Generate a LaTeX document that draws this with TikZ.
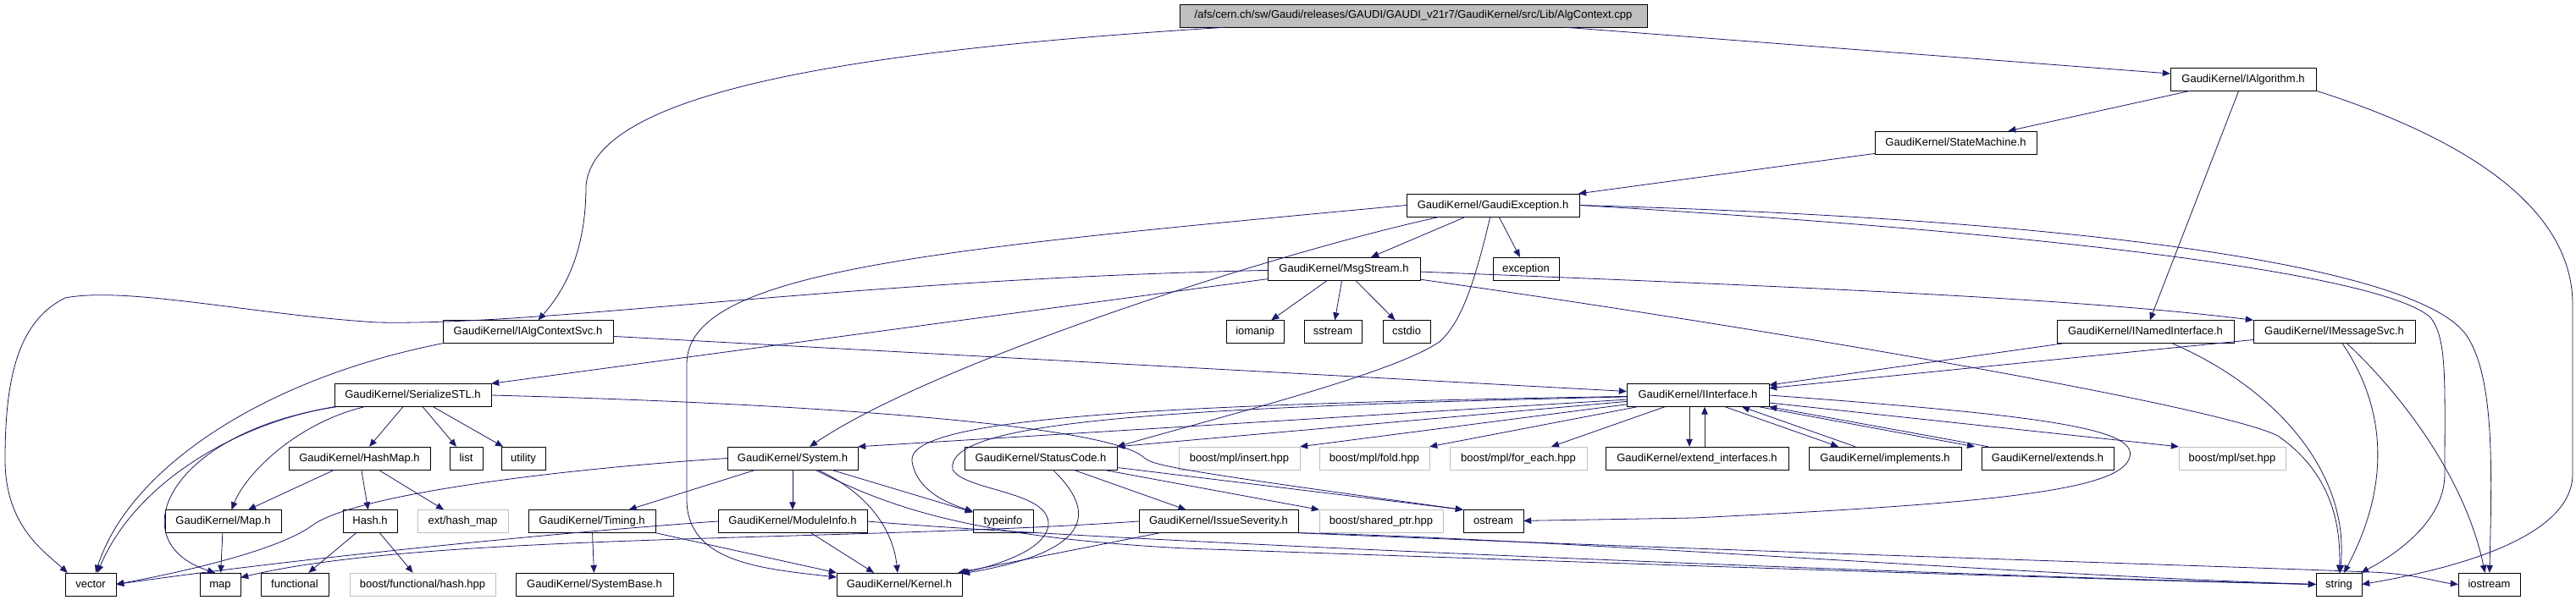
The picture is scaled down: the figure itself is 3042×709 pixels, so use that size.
\documentclass[tikz,border=0pt]{standalone}
\usepackage{fontspec}
\setmainfont{Liberation Sans}
\usetikzlibrary{arrows.meta}
\definecolor{edgeblue}{HTML}{191970}
\definecolor{boxgray}{HTML}{BFBFBF}

\begin{document}
\begin{tikzpicture}[x=1pt,y=-1pt,
      file/.style={draw=black,fill=white,inner sep=0pt,minimum height=27pt,
        font=\fontsize{13}{15}\selectfont,text height=9.5pt,text depth=2.5pt},
      sysfile/.style={file,draw=boxgray},
      mainfile/.style={file,fill=boxgray},
      incl/.style={draw=edgeblue,line width=0.8pt,-{Triangle[length=9pt,width=7.5pt]}},
    ]
    \useasboundingbox (0,0) rectangle (3042,709);
    % files
    \node[mainfile,minimum width=552pt] (main) at (1669,18.5) {/afs/cern.ch/sw/Gaudi/releases/GAUDI/GAUDI\_v21r7/GaudiKernel/src/Lib/AlgContext.cpp};
    \node[file,minimum width=172pt] (IAlgorithm) at (2649,93.5) {GaudiKernel/IAlgorithm.h};
    \node[file,minimum width=191pt] (StateMachine) at (2309.5,168.5) {GaudiKernel/StateMachine.h};
    \node[file,minimum width=204pt] (GaudiException) at (1763,242.5) {GaudiKernel/GaudiException.h};
    \node[file,minimum width=180pt] (MsgStream) at (1587,317.5) {GaudiKernel/MsgStream.h};
    \node[file,minimum width=78pt] (exception) at (1802,317.5) {exception};
    \node[file,minimum width=201pt] (IAlgContextSvc) at (623.5,392) {GaudiKernel/IAlgContextSvc.h};
    \node[file,minimum width=68pt] (iomanip) at (1482,392) {iomanip};
    \node[file,minimum width=68pt] (sstream) at (1574,392) {sstream};
    \node[file,minimum width=56pt] (cstdio) at (1661,392) {cstdio};
    \node[file,minimum width=209pt] (INamedInterface) at (2533.5,392) {GaudiKernel/INamedInterface.h};
    \node[file,minimum width=191pt] (IMessageSvc) at (2756.5,392) {GaudiKernel/IMessageSvc.h};
    \node[file,minimum width=185pt] (SerializeSTL) at (487.5,467) {GaudiKernel/SerializeSTL.h};
    \node[file,minimum width=168pt] (IInterface) at (2005,467) {GaudiKernel/IInterface.h};
    \node[file,minimum width=167pt] (HashMap) at (424.5,541.5) {GaudiKernel/HashMap.h};
    \node[file,minimum width=39pt] (list) at (550.5,541.5) {list};
    \node[file,minimum width=52pt] (utility) at (618,541.5) {utility};
    \node[file,minimum width=154pt] (System) at (936,541.5) {GaudiKernel/System.h};
    \node[file,minimum width=180pt] (StatusCode) at (1229,541.5) {GaudiKernel/StatusCode.h};
    \node[sysfile,minimum width=143pt] (mplinsert) at (1463.5,541.5) {boost/mpl/insert.hpp};
    \node[sysfile,minimum width=130pt] (mplfold) at (1623,541.5) {boost/mpl/fold.hpp};
    \node[sysfile,minimum width=162pt] (mplforeach) at (1793,541.5) {boost/mpl/for\_each.hpp};
    \node[file,minimum width=216pt] (extendinterfaces) at (2004,541.5) {GaudiKernel/extend\_interfaces.h};
    \node[file,minimum width=180pt] (implements) at (2226,541.5) {GaudiKernel/implements.h};
    \node[file,minimum width=156pt] (extends) at (2418,541.5) {GaudiKernel/extends.h};
    \node[sysfile,minimum width=126pt] (mplset) at (2636,541.5) {boost/mpl/set.hpp};
    \node[file,minimum width=137pt] (Map) at (263.5,616) {GaudiKernel/Map.h};
    \node[file,minimum width=64pt] (Hash) at (437,616) {Hash.h};
    \node[sysfile,minimum width=107pt] (exthashmap) at (546.5,616) {ext/hash\_map};
    \node[file,minimum width=150pt] (Timing) at (699,616) {GaudiKernel/Timing.h};
    \node[file,minimum width=176pt] (ModuleInfo) at (936,616) {GaudiKernel/ModuleInfo.h};
    \node[file,minimum width=71pt] (typeinfo) at (1184.5,616) {typeinfo};
    \node[file,minimum width=188pt] (IssueSeverity) at (1439,616) {GaudiKernel/IssueSeverity.h};
    \node[sysfile,minimum width=146pt] (sharedptr) at (1631,616) {boost/shared\_ptr.hpp};
    \node[file,minimum width=71pt] (ostream) at (1763.5,616) {ostream};
    \node[file,minimum width=60pt] (vector) at (107,690.5) {vector};
    \node[file,minimum width=48pt] (map) at (260,690.5) {map};
    \node[file,minimum width=80pt] (functional) at (348,690.5) {functional};
    \node[sysfile,minimum width=172pt] (funchash) at (499,690.5) {boost/functional/hash.hpp};
    \node[file,minimum width=186pt] (SystemBase) at (702,690.5) {GaudiKernel/SystemBase.h};
    \node[file,minimum width=148pt] (Kernel) at (1062,690.5) {GaudiKernel/Kernel.h};
    \node[file,minimum width=54pt] (string) at (2762,690.5) {string};
    \node[file,minimum width=73pt] (iostream) at (2939.5,690.5) {iostream};
    % includes of the top file
    \draw[incl] (main) .. controls (1000,60) and (700,110) .. (692,220) .. controls (692,300) and (665,345) .. (IAlgContextSvc);
    \draw[incl] (main) -- (IAlgorithm);
    \draw[incl] (IAlgorithm) -- (StateMachine);
    \draw[incl] (IAlgorithm) -- (INamedInterface);
    \draw[incl] (IAlgorithm.south east) .. controls (2900,160) and (3038,240) .. (3038,360) -- (3038,560) .. controls (3038,640) and (2880,675) .. (string.east);
    \draw[incl] (StateMachine) -- (GaudiException);
    % GaudiException.h
    \draw[incl] (GaudiException) -- (MsgStream);
    \draw[incl] (GaudiException) -- (exception);
    \draw[incl] (GaudiException) .. controls (1740,340) and (1725,380) .. (1701,403) .. controls (1650,440) and (1450,490) .. (StatusCode.north east);
    \draw[incl] (GaudiException) .. controls (1500,300) and (1100,430) .. (System);
    \draw[incl] (GaudiException.west) .. controls (1100,295) and (811,320) .. (811,430) -- (811,590) .. controls (811,665) and (900,672) .. (Kernel);
    \draw[incl] (GaudiException.east) .. controls (2500,280) and (2820,330) .. (2870,375) .. controls (2890,400) and (2887,450) .. (2887,560) .. controls (2887,620) and (2820,660) .. (string);
    \draw[incl] (GaudiException.east) .. controls (2500,260) and (2870,320) .. (2915,400) .. controls (2945,450) and (2943,550) .. (iostream);
    % MsgStream.h
    \draw[incl] (MsgStream) .. controls (1000,330) and (650,385) .. (446,381) .. controls (300,372) and (150,338) .. (77,352) .. controls (20,380) and (6,450) .. (6,543) .. controls (6,620) and (50,650) .. ([xshift=3pt]vector.north west);
    \draw[incl] (MsgStream) -- (SerializeSTL.north east);
    \draw[incl] (MsgStream) -- (iomanip);
    \draw[incl] (MsgStream) -- (sstream);
    \draw[incl] (MsgStream) -- (cstdio);
    \draw[incl] (MsgStream) .. controls (2100,338) and (2450,352) .. (IMessageSvc.north west);
    \draw[incl] (MsgStream) .. controls (2100,390) and (2620,480) .. (2690,515) .. controls (2740,550) and (2765,600) .. (string);
    % IAlgContextSvc.h
    \draw[incl] (IAlgContextSvc.south west) .. controls (300,450) and (150,560) .. ([xshift=6pt]vector.north);
    \draw[incl] (IAlgContextSvc) -- (IInterface);
    % SerializeSTL.h
    \draw[incl] (SerializeSTL.south west) .. controls (280,500) and (160,570) .. ([xshift=8pt]vector.north);
    \draw[incl] ([xshift=3pt]SerializeSTL.south west) .. controls (200,510) and (140,640) .. ([xshift=-6pt]map.north);
    \draw[incl] (SerializeSTL) .. controls (350,500) and (290,560) .. ([xshift=10pt]Map.north);
    \draw[incl] (SerializeSTL) -- (HashMap);
    \draw[incl] (SerializeSTL) -- (list);
    \draw[incl] (SerializeSTL) -- (utility);
    \draw[incl] (SerializeSTL.east) .. controls (1000,478) and (1310,505) .. (1350,540) .. controls (1362,550) and (1375,554) .. (ostream.north west);
    % HashMap.h and below
    \draw[incl] (HashMap) -- (Map);
    \draw[incl] (HashMap) -- (Hash);
    \draw[incl] (HashMap) -- (exthashmap);
    \draw[incl] (Map) -- (map);
    \draw[incl] (Hash) -- (functional);
    \draw[incl] (Hash) -- (funchash);
    % System.h
    \draw[incl] (System.west) .. controls (650,555) and (420,585) .. (370,620) .. controls (330,650) and (220,675) .. (vector.east);
    \draw[incl] (System) -- (Timing);
    \draw[incl] (System) -- (ModuleInfo);
    \draw[incl] (System) .. controls (1030,585) and (1055,630) .. ([xshift=-2pt]Kernel.north);
    \draw[incl] (System) -- (typeinfo);
    \draw[incl] (System) .. controls (1050,600) and (1150,635) .. (1400,648) .. controls (1800,662) and (2500,686) .. (string.west);
    \draw[incl] (Timing) -- (SystemBase);
    \draw[incl] (Timing.south east) -- (Kernel.north west);
    \draw[incl] (ModuleInfo.west) .. controls (650,630) and (350,660) .. (vector.east);
    \draw[incl] (ModuleInfo) -- ([xshift=-30pt]Kernel.north);
    \draw[incl] (ModuleInfo.east) .. controls (1300,640) and (2300,680) .. (string.west);
    % IInterface.h
    \draw[incl] (IInterface) -- (System.north east);
    \draw[incl] (IInterface) -- (StatusCode.north east);
    \draw[incl] (IInterface) .. controls (1350,478) and (1070,495) .. (1077,545) .. controls (1082,580) and (1120,595) .. (typeinfo);
    \draw[incl] (IInterface) .. controls (1350,482) and (1115,500) .. (1125,555) .. controls (1140,580) and (1235,580) .. (1238,617) .. controls (1240,650) and (1170,670) .. (Kernel);
    \draw[incl] (IInterface) -- (mplinsert.north east);
    \draw[incl] (IInterface) -- (mplfold.north east);
    \draw[incl] (IInterface) -- (mplforeach);
    \draw[incl] ([xshift=-10pt]IInterface.south) -- ([xshift=-9pt]extendinterfaces.north);
    \draw[incl] ([xshift=9pt]extendinterfaces.north) -- ([xshift=8pt]IInterface.south);
    \draw[incl] ([xshift=32pt]IInterface.south) -- ([xshift=-55pt]implements.north);
    \draw[incl] ([xshift=-35pt]implements.north) -- ([xshift=52pt]IInterface.south);
    \draw[incl] ([xshift=72pt]IInterface.south) -- ([xshift=-86pt]extends.north);
    \draw[incl] ([xshift=-70pt]extends.north) -- (IInterface.south east);
    \draw[incl] (IInterface) -- (mplset.north west);
    \draw[incl] (IInterface.east) .. controls (2400,490) and (2525,505) .. (2515,540) .. controls (2505,580) and (2350,595) .. (2000,612) -- (ostream);
    % interfaces on the right
    \draw[incl] (INamedInterface) -- (IInterface);
    \draw[incl] (INamedInterface) .. controls (2690,460) and (2775,560) .. (string);
    \draw[incl] (IMessageSvc) -- (IInterface);
    \draw[incl] (IMessageSvc) .. controls (2810,470) and (2830,560) .. ([xshift=6pt]string.north);
    \draw[incl] (IMessageSvc) .. controls (2830,460) and (2910,560) .. ([xshift=-5pt]iostream.north);
    % StatusCode.h
    \draw[incl] (StatusCode) .. controls (1290,600) and (1300,650) .. (Kernel);
    \draw[incl] (StatusCode) -- (IssueSeverity);
    \draw[incl] (StatusCode) -- (sharedptr.north west);
    \draw[incl] (StatusCode) -- (ostream.north west);
    % IssueSeverity.h
    \draw[incl] (IssueSeverity) -- (Kernel);
    \draw[incl] (IssueSeverity.west) .. controls (1000,640) and (500,630) .. ([yshift=8pt]map.east);
    \draw[incl] (IssueSeverity.south east) .. controls (1800,635) and (2400,680) .. (string.west);
    \draw[incl] (IssueSeverity.south east) .. controls (2000,650) and (2600,668) .. (2800,676) .. controls (2850,678) and (2880,688) .. (iostream.west);
\end{tikzpicture}
\end{document}
